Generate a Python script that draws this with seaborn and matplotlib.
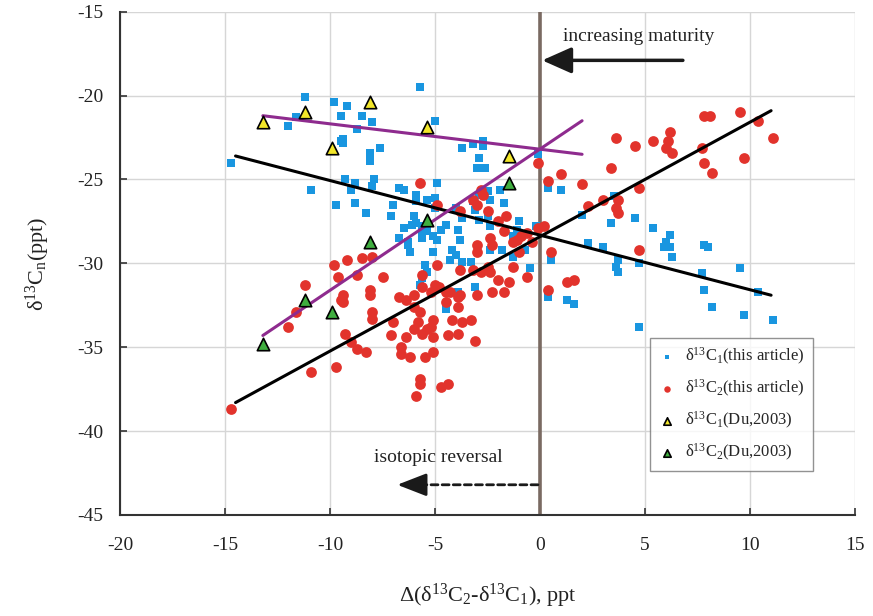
import matplotlib
matplotlib.use("Agg")
import matplotlib.pyplot as plt
import pandas as pd
import seaborn as sns

# d13C1 (this article): x = delta(d13C2 - d13C1), y = d13C1
c1_x = [-11.2, -9.8, -12.0, -11.6, -14.7, -10.9, -9.7, -9.5, -9.5, -5.7,
        -9.2, -8.5, -8.0, -8.7, -9.4, -9.4, -7.6, -8.1, -8.1, -8.1,
        -5.0, -3.7, -3.2, -2.7, -2.7, -2.9, -3.0, -2.6,
        -9.3, -8.8, -9.0, -7.9, -8.0, -6.7, -6.5, -4.9,
        -8.8, -8.3, -7.0, -7.1, -5.9, -5.9, -5.4, -5.0, -6.0, -6.5, -5.6,
        -1.9, -1.7, -1.0, -0.2, -0.1, -5.0, -5.9, -6.1,
        -6.7, -6.3, -6.3, -6.2, -5.6, -5.4, -5.1, -5.6, -4.9, -4.7, -4.5, -3.9, -3.8,
        -4.2, -4.0, -4.3, -3.7, -3.3, -5.1, -5.5, -5.4,
        -3.1, -2.9, -2.5, -2.4, -2.4, -2.9, -2.5,
        -1.1, -1.3, -2.4, -1.8, -0.5, -0.7, -1.3,
        -5.7, -5.6, -3.1, -3.9, 0.5, -3.7, -3.2, -4.0, -4.5,
        0.4, 1.0, 2.0, 3.4, 4.5, 5.4, 6.2, 3.5, 2.3, 3.0, 3.7, 3.6, 3.7, 4.7,
        6.0, 5.9, 6.2, 6.3, 7.8, 8.0, 7.7, 9.5, 7.8, 8.2, 9.7, 10.4, 11.1, 4.7,
        0.4, 1.3, 1.6]
c1_y = [-20.1, -20.4, -21.8, -21.3, -24.0, -25.6, -26.5, -21.2, -22.7, -19.5,
        -20.6, -21.2, -21.6, -22.0, -22.6, -22.8, -23.1, -23.4, -23.7, -23.9,
        -21.5, -23.1, -22.9, -22.7, -23.0, -23.7, -24.3, -24.3,
        -25.0, -25.2, -25.6, -25.0, -25.4, -25.5, -25.6, -25.2,
        -26.4, -27.0, -26.5, -27.2, -25.9, -26.3, -26.2, -26.1, -27.2, -27.9, -28.0,
        -25.6, -26.4, -27.5, -27.8, -23.5, -26.7, -27.6, -27.7,
        -28.5, -28.7, -28.9, -29.3, -27.8, -28.1, -28.4, -28.5, -28.6, -28.0, -27.7, -28.0, -28.6,
        -29.2, -29.5, -29.8, -29.9, -29.9, -29.3, -30.1, -30.5,
        -26.8, -27.4, -27.2, -27.8, -26.2, -25.9, -25.7,
        -28.0, -28.4, -29.2, -29.2, -30.3, -29.2, -29.6,
        -31.3, -30.9, -31.4, -31.7, -29.8, -27.3, -26.3, -26.7, -32.7,
        -25.5, -25.6, -27.1, -27.6, -27.3, -27.9, -28.3, -26.0, -28.8, -29.0, -29.8, -30.2, -30.5, -30.0,
        -28.7, -29.0, -29.0, -29.6, -28.9, -29.0, -30.6, -30.3, -31.6, -32.6, -33.1, -31.7, -33.4, -33.8,
        -32.0, -32.2, -32.4]

# d13C2 (this article)
c2_x = [7.8, 8.1, 9.5, 10.4, 11.1, 9.7, 7.8, 8.2, 7.7, 6.2, 6.1, 6.0, 6.3, 5.4, 4.5, 3.6,
        3.4, 4.7, 2.0, 1.0, 0.4, 2.3, 3.0, 3.7, 3.6, 3.7, 0.2, -0.1, 4.7, 0.5, 1.3, 1.6, 0.4,
        -5.7, -4.9, -3.8, -3.2, -2.8, -2.7, -3.0, -2.5, -2.0, -1.6, -1.7, -2.4, -2.3, -3.0,
        -3.0, -1.1, -0.9, -0.6, -0.1, -1.0, -1.3, -1.5, -0.6, -2.0, -2.4, -2.8, -2.5, -3.8,
        -3.2, -4.9, -5.6, -4.9, -5.6, -7.5, -3.8, -4.3, -6.7, -6.0, -5.2, -3.0, -2.3, -1.7,
        -1.3, -0.4,
        -9.8, -9.6, -11.2, -11.6, -12.0, -10.9, -9.7, -14.7, -9.5, -9.2, -8.5, -8.0, -8.7,
        -8.1, -8.1, -9.4, -9.4, -8.0, -8.0, -7.0, -6.4, -5.0, -4.8, -4.5, -3.9, -3.9, -4.5,
        -3.3, -3.7, -4.2, -3.9, -3.1, -4.4, -5.1, -5.1, -5.8, -6.0, -5.6, -5.2, -6.4, -6.6,
        -6.6, -6.2, -5.5, -5.1, -7.1, -9.3, -9.0, -8.7, -8.3, -5.7, -5.7, -5.9, -4.7, -4.4,
        -6.0, -5.7, -5.4]
c2_y = [-21.2, -21.2, -21.0, -21.5, -22.5, -23.7, -24.0, -24.6, -23.1, -22.2, -22.7, -23.1, -23.4, -22.7, -23.0, -22.5,
        -24.3, -25.5, -25.3, -24.7, -25.1, -26.6, -26.2, -26.2, -26.7, -27.0, -27.8, -24.0, -29.2, -29.3, -31.1, -31.0, -31.6,
        -25.2, -26.5, -26.9, -26.2, -25.6, -25.9, -26.5, -26.9, -27.5, -27.2, -28.1, -28.5, -28.9, -28.9,
        -29.3, -28.6, -28.4, -28.2, -27.9, -29.3, -30.2, -31.1, -30.8, -31.0, -30.5, -30.5, -30.2, -30.4,
        -30.4, -30.1, -30.7, -31.4, -31.4, -30.8, -31.9, -31.7, -32.0, -31.9, -31.7, -31.9, -31.7, -31.7,
        -28.7, -28.7,
        -30.1, -30.8, -31.3, -32.9, -33.8, -36.5, -36.2, -38.7, -32.2, -29.8, -29.7, -29.6, -30.7,
        -31.6, -31.9, -31.9, -32.3, -32.9, -33.3, -33.5, -32.2, -31.3, -31.4, -31.7, -32.0, -32.6, -32.3,
        -33.4, -33.5, -33.4, -34.2, -34.6, -34.3, -33.4, -34.4, -33.5, -33.9, -34.2, -33.8, -34.4, -35.0,
        -35.4, -35.6, -35.6, -35.3, -34.3, -34.2, -34.7, -35.1, -35.3, -36.9, -37.2, -37.9, -37.4, -37.2,
        -32.6, -32.9, -33.9]

# Du (2003)
du_x = [-13.2, -11.2, -9.9, -8.1, -5.4, -1.5]
du_c1_y = [-21.6, -21.0, -23.1, -20.4, -21.9, -23.6]
du_c2_y = [-34.8, -32.2, -32.9, -28.7, -27.4, -25.2]

# trend lines (end points)
fit_x = [-14.5, 11.0]
fit_c1_y = [-23.6, -31.9]
fit_c2_y = [-38.3, -20.9]
du_fit_x = [-13.2, 2.0]
du_fit_c1_y = [-21.2, -23.5]
du_fit_c2_y = [-34.3, -21.5]

sns.set_theme(style="whitegrid")
plt.rcParams["font.family"] = ["Liberation Serif", "DejaVu Serif"]
plt.rcParams["mathtext.fontset"] = "custom"
plt.rcParams["mathtext.rm"] = "Liberation Serif"
plt.rcParams["mathtext.it"] = "Liberation Serif:italic"
plt.rcParams["axes.unicode_minus"] = False

fig = plt.figure(figsize=(8.73, 6.16), dpi=100)
ax = fig.add_axes([0.1375, 0.164, 0.842, 0.817])

blue = "#1996E0"
red = "#E2332C"
ink = "#1a1a1a"

sns.scatterplot(x=c1_x, y=c1_y, ax=ax, marker="s", s=26, color=blue, linewidth=0,
                label="δ$^{13}$C$_1$(this article)", zorder=3)
sns.scatterplot(x=c2_x, y=c2_y, ax=ax, marker="o", s=60, color=red, linewidth=0,
                label="δ$^{13}$C$_2$(this article)", zorder=4)

for xs, ys, col in [(fit_x, fit_c1_y, "black"), (fit_x, fit_c2_y, "black"),
                    (du_fit_x, du_fit_c1_y, "#8E2B8E"), (du_fit_x, du_fit_c2_y, "#8E2B8E")]:
    sns.lineplot(x=xs, y=ys, ax=ax, color=col, lw=2.2, estimator=None, sort=False, zorder=5)

sns.scatterplot(x=du_x, y=du_c1_y, ax=ax, marker="^", s=80, color="#F2E62A",
                edgecolor="black", linewidth=1.2, label="δ$^{13}$C$_1$(Du,2003)", zorder=6)
sns.scatterplot(x=du_x, y=du_c2_y, ax=ax, marker="^", s=80, color="#3FAE3F",
                edgecolor="black", linewidth=1.2, label="δ$^{13}$C$_2$(Du,2003)", zorder=6)

ax.axvline(0, color="#7A6A62", lw=2.6, zorder=2)

# annotations
ax.annotate("", xy=(0.1, -17.9), xytext=(6.8, -17.9),
            arrowprops=dict(arrowstyle="-|>,head_length=0.9,head_width=0.4",
                            color=ink, lw=2.5, mutation_scale=20, shrinkA=0, shrinkB=0))
ax.text(1.1, -16.45, "increasing maturity", fontsize=14, ha="left", va="center", color="#222222")
ax.annotate("", xy=(-5.9, -43.2), xytext=(-0.1, -43.2),
            arrowprops=dict(arrowstyle="-", color=ink, lw=2, ls=(0, (2.5, 1.5)),
                            shrinkA=0, shrinkB=0))
ax.annotate("", xy=(-6.8, -43.2), xytext=(-5.8, -43.2),
            arrowprops=dict(arrowstyle="-|>,head_length=0.9,head_width=0.35",
                            color=ink, lw=2, mutation_scale=20, shrinkA=0, shrinkB=0))
ax.text(-7.9, -41.6, "isotopic reversal", fontsize=14, ha="left", va="center", color="#222222")

ax.set_xlim(-20, 15)
ax.set_ylim(-45, -15)
ax.set_xticks(range(-20, 16, 5))
ax.set_yticks(range(-45, -14, 5))
ax.grid(True, color="#d6d6d6", lw=1)
ax.set_axisbelow(True)
for side in ["top", "right"]:
    ax.spines[side].set_visible(False)
for side in ["left", "bottom"]:
    ax.spines[side].set_color("#333333")
    ax.spines[side].set_linewidth(1.5)
ax.tick_params(direction="in", length=5, width=1.2, color="#333333",
               labelsize=14, labelcolor="#222222", left=True, bottom=True)
ax.tick_params(axis="x", pad=16)
ax.tick_params(axis="y", pad=12)

ax.set_xlabel("Δ(δ$^{13}$C$_2$-δ$^{13}$C$_1$), ppt", fontsize=16, color="#222222", labelpad=20)
ax.set_ylabel("δ$^{13}$C$_{\\mathrm{n}}$(ppt)", fontsize=16, color="#222222", labelpad=18)

leg = ax.legend(loc="lower left", bbox_to_anchor=(0.71, 0.07), frameon=True, fancybox=False,
                fontsize=12, handletextpad=0.6, borderpad=0.5, labelspacing=0.65,
                markerscale=0.6, handlelength=1.0)
leg.get_frame().set_edgecolor("#777777")
leg.get_frame().set_linewidth(1.0)

fig.savefig("out.png", dpi=100)
